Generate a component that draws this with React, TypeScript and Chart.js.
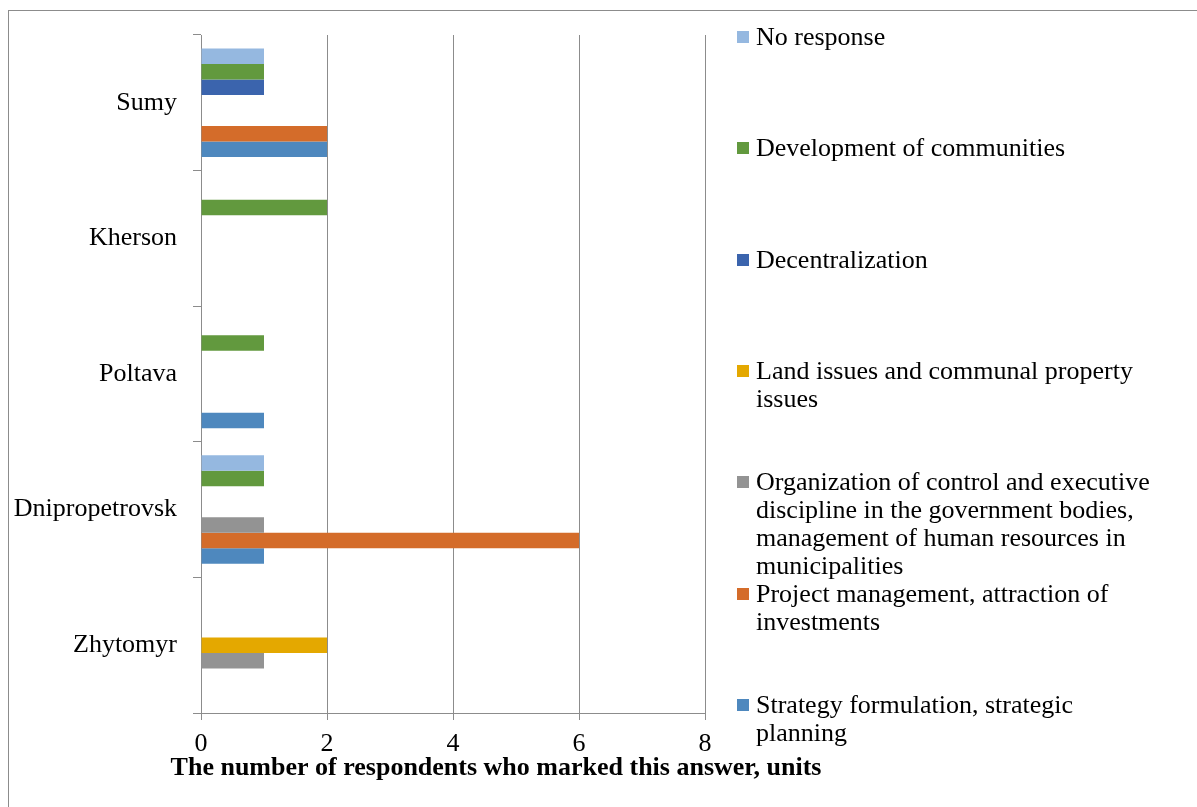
import React, { useEffect, useRef } from "react";
import { Chart, registerables } from "chart.js";

Chart.register(...registerables);

// ---- data ----
const categories = ["Sumy", "Kherson", "Poltava", "Dnipropetrovsk", "Zhytomyr"];
const seriesNames = [
  "No response",
  "Development of communities",
  "Decentralization",
  "Land issues and communal property issues",
  "Organization of control and executive discipline in the government bodies, management of human resources in municipalities",
  "Project management, attraction of investments",
  "Strategy formulation, strategic planning",
];
const noResponse = [1, 0, 0, 1, 0];
const development = [1, 2, 1, 1, 0];
const decentralization = [1, 0, 0, 0, 0];
const landIssues = [0, 0, 0, 0, 2];
const organization = [0, 0, 0, 1, 1];
const projectManagement = [2, 0, 0, 6, 0];
const strategy = [2, 0, 1, 1, 0];
const seriesValues = [noResponse, development, decentralization, landIssues, organization, projectManagement, strategy];
const seriesColors = ["#95B8E0", "#62993E", "#3B64AD", "#E4A800", "#939393", "#D46C2A", "#4E88BE"];
const xTicks = [0, 2, 4, 6, 8];
const axisTitle = "The number of respondents who marked this answer, units";

// ---- layout ----
const W = 1197;
const H = 807;
const FONT = "'Liberation Serif', 'Times New Roman', serif";
const PLOT_LEFT = 201;
const PLOT_RIGHT = 705;
const PLOT_TOP = 35;
const PLOT_BOTTOM = 713;
const GRID = "#8c8c8c";
const LEGEND_FIRST = 37;
const LEGEND_STEP = 111.3;

export default function App() {
  const ref = useRef<HTMLCanvasElement | null>(null);

  useEffect(() => {
    if (!ref.current) return;
    const titlePlugin = {
      id: "xTitle",
      afterDraw(chart: any) {
        const ctx = chart.ctx;
        const a = chart.chartArea;
        ctx.save();
        ctx.font = `bold 26px ${FONT}`;
        ctx.fillStyle = "#000";
        ctx.textAlign = "center";
        ctx.textBaseline = "middle";
        ctx.fillText(axisTitle, (a.left + a.right) / 2 + 43, a.bottom + 55);
        ctx.restore();
      },
    };
    const chart = new Chart(ref.current, {
      type: "bar",
      data: {
        labels: categories,
        datasets: seriesNames.map((name, i) => ({
          label: name,
          data: seriesValues[i],
          backgroundColor: seriesColors[i],
          borderWidth: 0,
          barPercentage: 1,
          categoryPercentage: 0.8,
        })),
      },
      options: {
        indexAxis: "y",
        animation: false,
        responsive: false,
        maintainAspectRatio: false,
        layout: { padding: { top: PLOT_TOP, right: W - PLOT_RIGHT, left: 0, bottom: 0 } },
        plugins: { legend: { display: false }, tooltip: { enabled: false }, title: { display: false } },
        scales: {
          x: {
            min: 0,
            max: 8,
            afterBuildTicks: (scale: any) => {
              scale.ticks = xTicks.map((v) => ({ value: v }));
            },
            afterFit: (scale: any) => {
              scale.height = H - PLOT_BOTTOM;
            },
            grid: { color: GRID, lineWidth: 1, tickLength: 7, drawOnChartArea: true },
            border: { display: true, color: GRID, width: 1 },
            ticks: { color: "#000", font: { family: FONT, size: 26 }, padding: 9 },
          },
          y: {
            afterFit: (scale: any) => {
              scale.width = PLOT_LEFT;
            },
            grid: { display: true, drawOnChartArea: false, color: GRID, tickLength: 8, offset: true },
            border: { display: true, color: GRID, width: 1 },
            ticks: { color: "#000", font: { family: FONT, size: 26 }, padding: 16 },
          },
        },
      },
      plugins: [titlePlugin],
    });
    return () => chart.destroy();
  }, []);

  return (
    <div style={{ position: "fixed", left: 0, top: 0, width: W, height: H, overflow: "hidden", background: "#fff" }}>
      <div
        style={{
          position: "absolute",
          left: 8,
          top: 10,
          width: W + 50,
          height: H + 50,
          border: "1.5px solid #8c8c8c",
        }}
      />
      <canvas ref={ref} width={W} height={H} style={{ position: "absolute", left: 0, top: 0, width: W, height: H }} />
      {seriesNames.map((name, i) => {
        const center = LEGEND_FIRST + i * LEGEND_STEP;
        return (
          <div key={name}>
            <div
              style={{
                position: "absolute",
                left: 737,
                top: center - 6,
                width: 12,
                height: 12,
                background: seriesColors[i],
              }}
            />
            <div
              style={{
                position: "absolute",
                left: 756,
                top: center - 14,
                width: 405,
                fontFamily: FONT,
                fontSize: 26,
                lineHeight: "28px",
                color: "#000",
              }}
            >
              {name}
            </div>
          </div>
        );
      })}
    </div>
  );
}
